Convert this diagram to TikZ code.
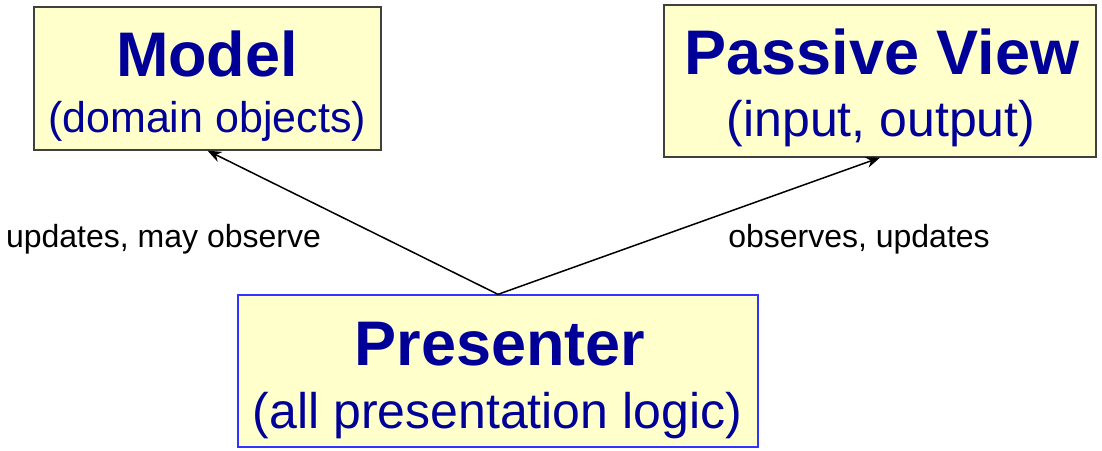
\documentclass[tikz,border=0pt]{standalone}
\usepackage{fontspec}
\setmainfont{Liberation Sans}
\usepackage{tikz}
\usetikzlibrary{arrows.meta}

\definecolor{boxfill}{HTML}{FFFFCC}
\definecolor{boxtext}{HTML}{000099}
\definecolor{boxedge}{HTML}{404040}
\definecolor{presedge}{HTML}{3333FF}

\tikzset{
    box/.style={draw=boxedge, line width=1.3pt, fill=boxfill, inner sep=0pt},
    titletext/.style={anchor=base, text=boxtext, inner sep=0pt, font=\fontsize{63}{63}\selectfont\bfseries},
    subtext/.style={anchor=base, text=boxtext, inner sep=0pt, font=\fontsize{50}{50}\selectfont},
    edgetext/.style={anchor=base, inner sep=0pt, font=\fontsize{32}{32}\selectfont},
    link/.style={-{Stealth[length=14pt,width=11pt]}, line width=1.5pt}
}

\begin{document}
\begin{tikzpicture}[x=1pt,y=1pt]

\useasboundingbox (0,0) rectangle (1102,450);

% boxes
\node[box, minimum width=347, minimum height=143] (model) at (207.5,371.5) {};
\node[box, minimum width=432, minimum height=152] (view) at (880,369) {};
\node[box, draw=presedge, minimum width=520, minimum height=152] (presenter) at (498,79) {};

% box texts
\node[titletext] (modeltitle) at (207,373) {Model};
\node[subtext, font=\fontsize{43}{43}\selectfont] (modelsub) at (207,317) {(domain objects)};
\node[titletext] (viewtitle) at (882,375) {Passive View};
\node[subtext] (viewsub) at (881,313) {(input, output)};
\node[titletext] (prestitle) at (500,85) {Presenter};
\node[subtext] (pressub) at (497.5,22) {(all presentation logic)};

% arrows
\draw[link] (presenter.north) -- (model.south);
\draw[link] (presenter.north) -- (view.south);

\node[edgetext] (modellabel) at (163.5,202) {updates, may observe};
\node[edgetext] (viewlabel) at (859,202) {observes, updates};

\end{tikzpicture}
\end{document}
